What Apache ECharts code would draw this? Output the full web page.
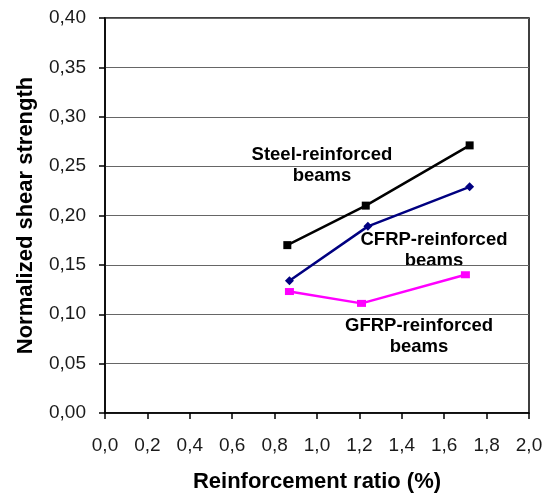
<!DOCTYPE html>
<html>
<head>
<meta charset="utf-8">
<script src="https://cdn.jsdelivr.net/npm/echarts@6/dist/echarts.min.js"></script>
<style>
html,body{margin:0;padding:0;background:#fff;}
#chart{width:556px;height:498px;}
</style>
</head>
<body>
<div id="chart"></div>
<script>
var steelX = [0.86, 1.23, 1.72];
var steelY = [0.170, 0.210, 0.271];
var cfrpX = [0.87, 1.24, 1.72];
var cfrpY = [0.134, 0.189, 0.229];
var gfrpX = [0.87, 1.21, 1.70];
var gfrpY = [0.123, 0.111, 0.140];

function pairs(xs, ys) {
    var arr = [];
    for (var i = 0; i < xs.length; i++) {
        arr.push([xs[i], ys[i]]);
    }
    return arr;
}

function comma(v, d) {
    return v.toFixed(d).replace('.', ',');
}

var fontName = 'Liberation Sans, Arial, sans-serif';

var options = {
    animation: false,
    grid: {
        left: 105,
        right: 27,
        top: 18,
        bottom: 84,
        show: true,
        borderColor: '#000',
        borderWidth: 1.5
    },
    xAxis: {
        type: 'value',
        min: 0,
        max: 2,
        interval: 0.2,
        name: 'Reinforcement ratio (%)',
        nameLocation: 'middle',
        nameGap: 58,
        nameTextStyle: {fontFamily: fontName, fontWeight: 'bold', fontSize: 22, color: '#000'},
        axisLine: {onZero: false, lineStyle: {color: '#000', width: 1.5}},
        axisTick: {show: true, length: 6, lineStyle: {color: '#000', width: 1.5}},
        axisLabel: {
            margin: 23,
            fontFamily: fontName,
            fontSize: 19,
            color: '#1a1a1a',
            formatter: function (v) { return comma(v, 1); }
        },
        splitLine: {show: false}
    },
    yAxis: {
        type: 'value',
        min: 0,
        max: 0.4,
        interval: 0.05,
        name: 'Normalized shear strength',
        nameLocation: 'middle',
        nameGap: 68,
        nameTextStyle: {fontFamily: fontName, fontWeight: 'bold', fontSize: 22, color: '#000'},
        axisLine: {onZero: false, lineStyle: {color: '#000', width: 1.5}},
        axisTick: {show: true, length: 6, lineStyle: {color: '#000', width: 1.5}},
        axisLabel: {
            margin: 19,
            fontFamily: fontName,
            fontSize: 19,
            color: '#1a1a1a',
            formatter: function (v) { return comma(v, 2); }
        },
        splitLine: {show: true, lineStyle: {color: '#666', width: 1}}
    },
    series: [
        {
            name: 'Steel',
            type: 'line',
            data: pairs(steelX, steelY),
            symbol: 'rect',
            symbolSize: 8,
            lineStyle: {color: '#000', width: 2.5},
            itemStyle: {color: '#000'}
        },
        {
            name: 'CFRP',
            type: 'line',
            data: pairs(cfrpX, cfrpY),
            symbol: 'diamond',
            symbolSize: 9,
            lineStyle: {color: '#000080', width: 2.5},
            itemStyle: {color: '#000080'}
        },
        {
            name: 'GFRP',
            type: 'line',
            data: pairs(gfrpX, gfrpY),
            symbol: 'rect',
            symbolSize: [9, 7],
            lineStyle: {color: '#ff00ff', width: 2.5},
            itemStyle: {color: '#ff00ff'}
        }
    ],
    graphic: [
        {
            type: 'text', x: 322, y: 144,
            style: {text: 'Steel-reinforced\nbeams', font: 'bold 18.5px ' + fontName, fill: '#000', align: 'center', lineHeight: 21}
        },
        {
            type: 'text', x: 434, y: 229,
            style: {text: 'CFRP-reinforced\nbeams', font: 'bold 18.5px ' + fontName, fill: '#000', align: 'center', lineHeight: 21}
        },
        {
            type: 'text', x: 419, y: 315,
            style: {text: 'GFRP-reinforced\nbeams', font: 'bold 18.5px ' + fontName, fill: '#000', align: 'center', lineHeight: 21}
        }
    ]
};

var chart = echarts.init(document.getElementById('chart'));
chart.setOption(options);
</script>
</body>
</html>
